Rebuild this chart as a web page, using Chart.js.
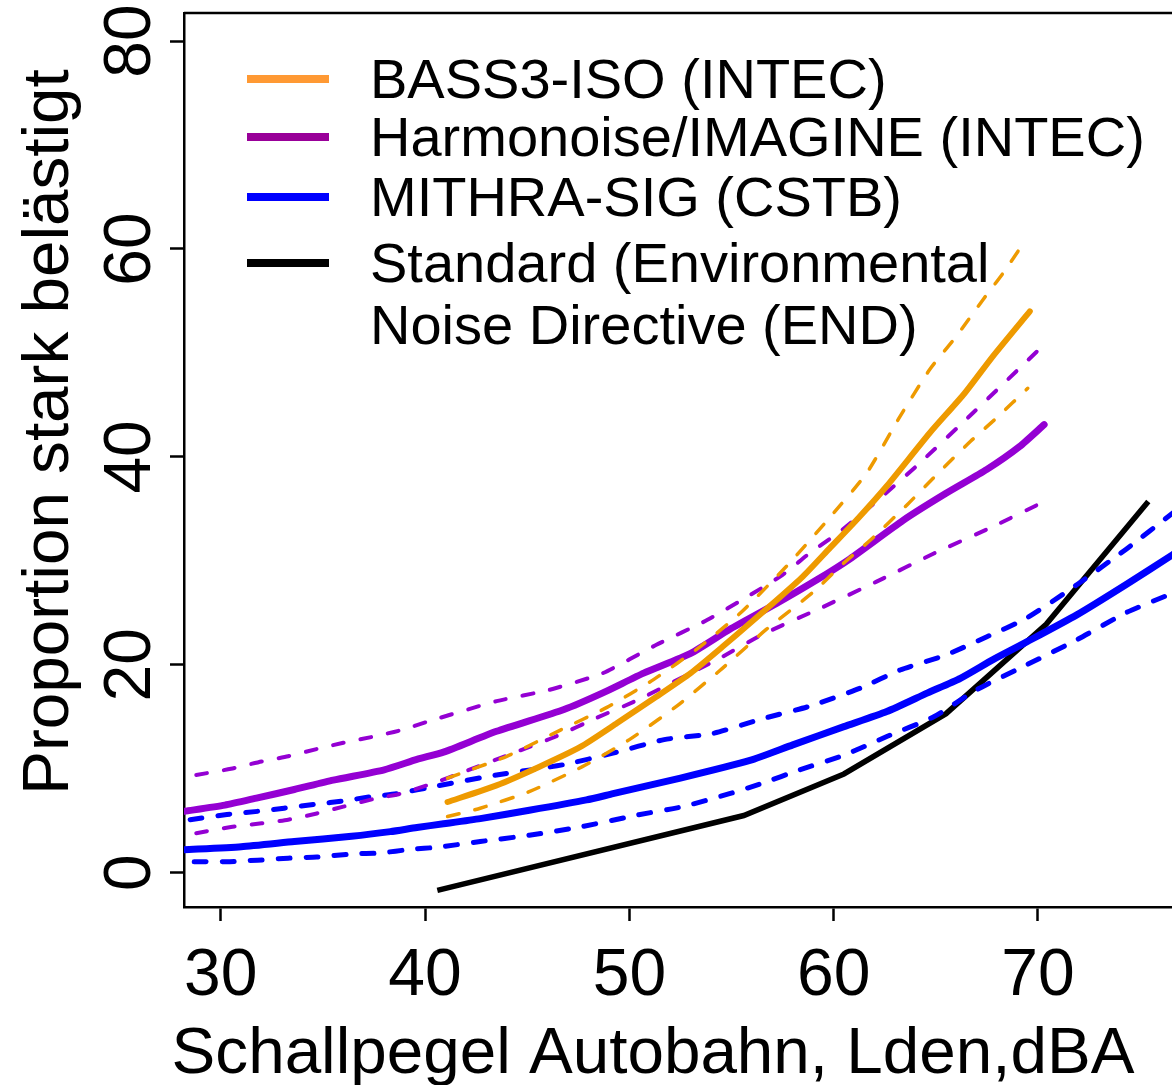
<!DOCTYPE html>
<html>
<head>
<meta charset="utf-8">
<script src="https://cdn.jsdelivr.net/npm/chart.js@4.4.1/dist/chart.umd.min.js"></script>
<style>
  body { margin: 0; background: #fff; }
</style>
</head>
<body>
<canvas id="chart" width="1172" height="1085"></canvas>
<script>
const xTicks = [30, 40, 50, 60, 70];
const yTicks = [0, 20, 40, 60, 80];
const xTitle = 'Schallpegel Autobahn, Lden,dBA';
const yTitle = 'Proportion stark belästigt';
const legendNames = [['BASS3-ISO (INTEC)'], ['Harmonoise/IMAGINE (INTEC)'], ['MITHRA-SIG (CSTB)'], ['Standard (Environmental', 'Noise Directive (END)']];

// BASS3-ISO: estimate and confidence band
const bassX = [41.1, 43.5, 45.6, 47.6, 49.4, 51.3, 53.0, 54.6, 55.9, 57.2, 58.5, 59.8, 61.2, 62.6, 64.7, 66.4, 67.8, 69.6];
const bassY = [6.8, 8.4, 10.2, 12.1, 14.4, 16.9, 19.2, 21.8, 24.0, 26.2, 28.5, 31.2, 34.1, 37.2, 42.3, 46.1, 49.7, 54.0];
const bassHiX = [41.1, 44.0, 46.5, 48.9, 51.2, 53.5, 55.5, 57.7, 59.6, 61.6, 63.25, 64.7, 66.0, 67.3, 68.3, 69.2];
const bassHiY = [9.1, 11.2, 13.6, 15.9, 18.6, 21.8, 25.1, 29.5, 33.7, 38.4, 43.9, 48.4, 51.6, 55.1, 57.7, 60.3];
const bassLoX = [41.1, 42.7, 45.1, 47.7, 50.0, 52.3, 54.4, 56.7, 59.0, 60.5, 61.8, 63.6, 65.05, 66.7, 68.0, 69.5];
const bassLoY = [5.4, 6.2, 7.8, 10.2, 12.8, 16.0, 19.4, 23.4, 27.0, 29.8, 32.0, 35.4, 38.3, 41.5, 43.8, 46.6];

// Harmonoise/IMAGINE
const harmX = [28.2, 30.2, 31.8, 33.6, 35.5, 38.0, 39.6, 40.9, 43.5, 46.8, 48.7, 50.7, 53.0, 54.9, 57.2, 59.2, 60.8, 63.4, 65.5, 67.5, 69.1, 70.3];
const harmY = [5.9, 6.5, 7.2, 8.0, 8.9, 9.9, 10.9, 11.6, 13.6, 15.7, 17.3, 19.2, 21.1, 23.4, 25.9, 28.2, 30.2, 33.9, 36.5, 38.8, 41.0, 43.1];
const harmHiX = [28.8, 30.5, 32.0, 33.3, 34.7, 36.0, 37.5, 38.8, 40.4, 43.5, 46.1, 48.7, 51.3, 53.8, 55.9, 57.5, 58.8, 60.3, 62.2, 64.1, 66.8, 70.3];
const harmHiY = [9.4, 10.0, 10.7, 11.2, 11.9, 12.5, 13.1, 13.7, 14.7, 16.5, 17.6, 19.2, 21.9, 24.3, 26.7, 28.65, 30.7, 32.8, 35.9, 39.2, 44.2, 50.8];
const harmLoX = [28.8, 30.5, 32.0, 33.3, 34.7, 36.0, 37.5, 38.8, 40.4, 41.9, 44.3, 46.4, 48.4, 50.4, 52.5, 54.3, 56.5, 59.3, 62.1, 64.9, 67.8, 70.3];
const harmLoY = [3.8, 4.4, 4.75, 5.1, 5.7, 6.35, 7.1, 7.6, 8.6, 9.7, 11.5, 13.1, 14.9, 16.6, 18.7, 20.5, 22.9, 25.4, 28.0, 30.7, 33.3, 35.7];

// MITHRA-SIG
const mithX = [28.2, 31.0, 33.6, 36.4, 38.3, 39.6, 40.9, 42.7, 45.1, 47.9, 49.2, 52.5, 55.9, 58.0, 60.5, 62.6, 64.6, 66.2, 67.8, 69.45, 71.9, 74.3, 76.6];
const mithY = [2.2, 2.5, 3.0, 3.5, 3.95, 4.35, 4.7, 5.2, 6.0, 7.0, 7.6, 9.1, 10.8, 12.3, 14.05, 15.5, 17.3, 18.7, 20.5, 22.2, 24.8, 27.7, 30.6];
const mithHiX = [28.5, 30.3, 31.8, 33.1, 34.7, 36.0, 37.3, 38.6, 40.6, 43.5, 46.8, 49.2, 51.7, 54.1, 56.5, 58.8, 61.3, 63.25, 65.5, 67.5, 69.45, 71.9, 74.3, 76.6];
const mithHiY = [5.1, 5.6, 5.9, 6.2, 6.6, 6.9, 7.3, 7.6, 8.35, 9.4, 10.4, 11.5, 12.8, 13.4, 14.8, 16.0, 17.75, 19.5, 20.95, 22.7, 24.5, 27.7, 31.1, 34.6];
const mithLoX = [28.7, 30.3, 31.8, 33.3, 34.7, 36.4, 37.8, 39.3, 40.6, 42.7, 45.1, 47.6, 50.4, 52.6, 54.9, 56.5, 58.35, 60.5, 62.6, 64.9, 67.0, 69.45, 71.9, 74.3, 76.6];
const mithLoY = [1.06, 1.06, 1.2, 1.4, 1.5, 1.8, 1.9, 2.25, 2.45, 3.0, 3.6, 4.4, 5.55, 6.35, 7.6, 8.6, 9.9, 11.3, 13.1, 15.0, 17.6, 20.0, 22.4, 25.0, 26.9];

// Standard (END)
const endX = [40.6, 55.6, 60.5, 65.5, 70.4, 75.4];
const endY = [-1.7, 5.5, 9.5, 15.3, 23.9, 35.7];

const orange = '#ee9a00', violet = '#9400d3', blue = '#0000ff';
const legendColors = ['#ff9933', '#990099', '#0000ff', '#000000'];
const fam = '"Liberation Sans", Arial, sans-serif';

const pts = (xs, ys) => xs.map((x, i) => ({ x: x, y: ys[i] }));

function solid(xs, ys, color, w) {
  return { data: pts(xs, ys), borderColor: color, borderWidth: w, pointRadius: 0, tension: 0.2, borderCapStyle: 'round', borderJoinStyle: 'round' };
}
function dashed(xs, ys, color, w, dash) {
  return { data: pts(xs, ys), borderColor: color, borderWidth: w, pointRadius: 0, tension: 0.2, borderDash: dash, borderCapStyle: 'round' };
}

const extras = {
  id: 'extras',
  afterDraw(chart) {
    const ctx = chart.ctx;
    const a = chart.chartArea;
    const ys = chart.scales.y;
    ctx.save();
    ctx.strokeStyle = '#000';
    ctx.lineWidth = 2.5;
    ctx.beginPath();
    ctx.moveTo(a.left, a.top);
    ctx.lineTo(a.right, a.top);
    ctx.stroke();

    ctx.fillStyle = '#000';
    ctx.font = '66px ' + fam;
    ctx.textAlign = 'center';
    ctx.textBaseline = 'alphabetic';
    yTicks.forEach(v => {
      ctx.save();
      ctx.translate(150, ys.getPixelForValue(v));
      ctx.rotate(-Math.PI / 2);
      ctx.fillText(String(v), 0, 0);
      ctx.restore();
    });

    ctx.font = '65.6px ' + fam;
    ctx.fillText(xTitle, 653, 1073);
    ctx.save();
    ctx.translate(68, 432);
    ctx.rotate(-Math.PI / 2);
    ctx.fillText(yTitle, 0, 0);
    ctx.restore();

    // legend
    const rowY = [79, 137, 197, 263];
    ctx.font = '56px ' + fam;
    ctx.textAlign = 'left';
    legendNames.forEach((lines, i) => {
      ctx.strokeStyle = legendColors[i];
      ctx.lineWidth = 8;
      ctx.lineCap = 'butt';
      ctx.beginPath();
      ctx.moveTo(247, rowY[i]);
      ctx.lineTo(329, rowY[i]);
      ctx.stroke();
      lines.forEach((t, j) => ctx.fillText(t, 370, rowY[i] + 19 + j * 62));
    });
    ctx.restore();
  }
};

new Chart(document.getElementById('chart'), {
  type: 'line',
  data: {
    datasets: [
      solid(bassX, bassY, orange, 6),
      dashed(bassHiX, bassHiY, orange, 3.5, [12, 16]),
      dashed(bassLoX, bassLoY, orange, 3.5, [12, 16]),
      solid(harmX, harmY, violet, 7),
      dashed(harmHiX, harmHiY, violet, 4, [11, 17]),
      dashed(harmLoX, harmLoY, violet, 4, [11, 17]),
      solid(mithX, mithY, blue, 7),
      dashed(mithHiX, mithHiY, blue, 5, [12, 16]),
      dashed(mithLoX, mithLoY, blue, 5, [12, 16]),
      { data: pts(endX, endY), borderColor: '#000', borderWidth: 5.5, pointRadius: 0, tension: 0 }
    ]
  },
  options: {
    responsive: false,
    animation: false,
    layout: { padding: { top: 13, right: 0, left: 0, bottom: 0 } },
    plugins: { legend: { display: false }, tooltip: { enabled: false } },
    scales: {
      x: {
        type: 'linear',
        min: 28.2,
        max: 76.56,
        afterBuildTicks: s => { s.ticks = xTicks.map(v => ({ value: v })); },
        afterFit: s => { s.height = 178; },
        grid: { drawOnChartArea: false, drawTicks: true, tickLength: 14, tickWidth: 2.5, tickColor: '#000', color: '#000' },
        border: { display: true, color: '#000', width: 2.5 },
        ticks: { color: '#000', font: { family: fam, size: 66 }, padding: 16, maxRotation: 0, autoSkip: false }
      },
      y: {
        type: 'linear',
        min: -3.3,
        max: 82.7,
        afterBuildTicks: s => { s.ticks = yTicks.map(v => ({ value: v })); },
        afterFit: s => { s.width = 184; },
        grid: { drawOnChartArea: false, drawTicks: true, tickLength: 14, tickWidth: 2.5, tickColor: '#000', color: '#000' },
        border: { display: true, color: '#000', width: 2.5 },
        ticks: { display: false }
      }
    }
  },
  plugins: [extras]
});
</script>
</body>
</html>
